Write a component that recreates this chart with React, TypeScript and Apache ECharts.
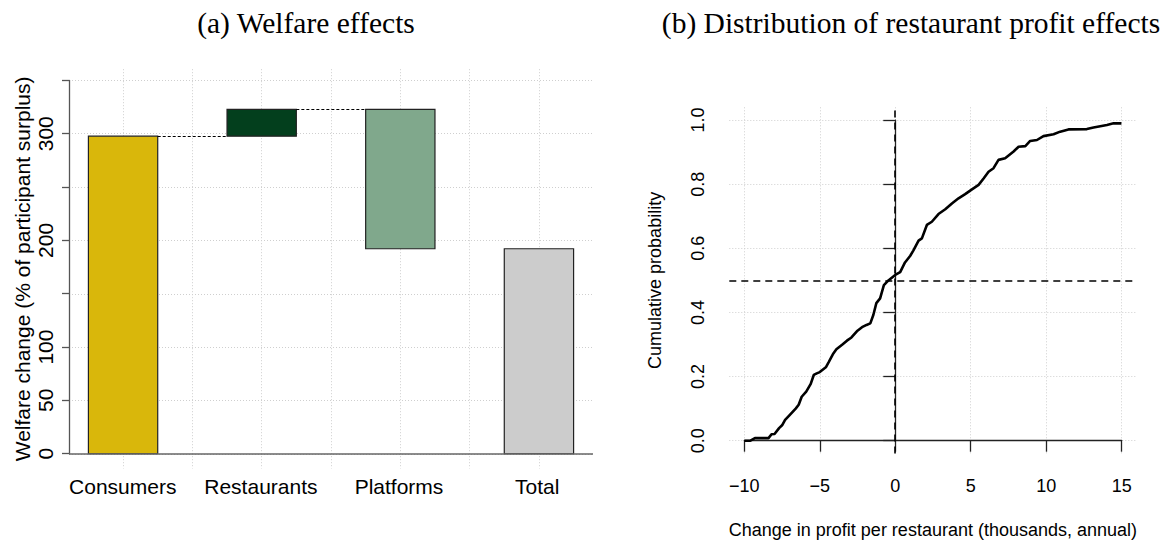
import React, { useEffect, useRef } from 'react';
import * as echarts from 'echarts';

// (a) welfare waterfall
const categories = ['Consumers', 'Restaurants', 'Platforms', 'Total'];
const welfareChange = [297.7, 25.2, -130.7, 192.2];
const barColors = ['#d9b70b', '#033f1d', '#80a88c', '#cccccc'];
const welfareTicks = [0, 50, 100, 150, 200, 250, 300, 350];
const welfareLabels = [0, 50, 100, 200, 300];
const barGridX = [1.5, 2.5, 3.5, 4.5, 5.5, 6.5, 7.5];
const leftXRange = [0.72, 8.28];
const leftYRange = [-13.9, 360.5];

// (b) CDF of restaurant profit effects
const profitX = [
  -10, -9.6, -9.3, -8.4, -8.2, -8.0, -7.7, -7.5, -7.3, -7.0, -6.6, -6.4, -6.2, -5.9, -5.6,
  -5.4, -5.2, -5.0, -4.6, -4.4, -4.1, -3.9, -3.5, -3.2, -2.9, -2.5, -2.2, -1.9, -1.65, -1.45,
  -1.25, -1.0, -0.75, -0.45, 0.0, 0.33, 0.65, 1.0, 1.2, 1.55, 1.77, 2.1, 2.43, 2.87, 3.32,
  3.76, 4.2, 4.64, 5.09, 5.53, 5.86, 6.19, 6.52, 6.85, 7.29, 7.85, 8.18, 8.63, 8.95, 9.4,
  9.83, 10.5, 10.94, 11.49, 12.71, 13.15, 14.04, 14.48, 15.0,
];
const cumProb = [
  0.0, 0.0, 0.008, 0.008, 0.02, 0.021, 0.039, 0.048, 0.065, 0.08, 0.1, 0.112, 0.137, 0.153, 0.177,
  0.205, 0.21, 0.214, 0.229, 0.246, 0.272, 0.285, 0.3, 0.312, 0.322, 0.343, 0.354, 0.361, 0.366, 0.392,
  0.429, 0.444, 0.485, 0.5, 0.517, 0.526, 0.556, 0.577, 0.593, 0.624, 0.631, 0.673, 0.683, 0.707, 0.722,
  0.74, 0.756, 0.769, 0.784, 0.798, 0.818, 0.839, 0.85, 0.876, 0.881, 0.902, 0.917, 0.919, 0.935, 0.938,
  0.95, 0.956, 0.964, 0.971, 0.972, 0.977, 0.985, 0.99, 0.99,
];
const profitTicks = [-10, -5, 0, 5, 10, 15];
const probTicks = [0, 0.2, 0.4, 0.6, 0.8, 1];
const rightXRange = [-11, 16];
const rightYRange = [-0.04, 1.04];
const medianProb = 0.5;
const zeroProfit = 0;

const SANS = 'Liberation Sans, Arial, sans-serif';
const SERIF = 'Liberation Serif, Times New Roman, serif';
const gridLine = { show: true, lineStyle: { color: '#cfcfcf', type: [1, 2], width: 1 } };

const App: React.FC = () => {
  const chartRef = useRef<HTMLDivElement>(null);

  useEffect(() => {
    if (!chartRef.current) return;
    const chart = echarts.init(chartRef.current, null, { renderer: 'svg' });

    // waterfall pieces: bar i spans x [2i+1, 2i+2]
    const bars: number[][] = [];
    const levels: number[] = [];
    let running = 0;
    welfareChange.forEach((v, i) => {
      const isTotal = i === welfareChange.length - 1;
      const lo = isTotal ? 0 : Math.min(running, running + v);
      const hi = isTotal ? v : Math.max(running, running + v);
      if (!isTotal) running += v;
      levels.push(running);
      bars.push([2 * i + 1, 2 * i + 2, lo, hi]);
    });
    const connectors = [0, 1].map((i) => ({
      coords: [
        [2 * i + 2, levels[i]],
        [2 * i + 3, levels[i]],
      ],
    }));

    const option: any = {
      animation: false,
      graphic: [
        {
          type: 'text', x: 306, y: 23,
          style: { text: '(a) Welfare effects', fontFamily: SERIF, fontSize: 29.5, fill: '#000', align: 'center', verticalAlign: 'middle' },
        },
        {
          type: 'text', x: 911, y: 23,
          style: { text: '(b) Distribution of restaurant profit effects', fontFamily: SERIF, fontSize: 29.5, fill: '#000', align: 'center', verticalAlign: 'middle' },
        },
      ],
      grid: [
        { left: 69, top: 69.2, width: 524, height: 399.4, outerBoundsMode: 'none' },
        { left: 69, top: 80.4, width: 524, height: 373.3, outerBoundsMode: 'none' },
        { left: 53.7, top: 69.2, width: 552.5, height: 399.4, outerBoundsMode: 'none' },
        { left: 729.3, top: 107.3, width: 407.2, height: 346.2, outerBoundsMode: 'none' },
        { left: 744.3, top: 120.1, width: 377.4, height: 320.6, outerBoundsMode: 'none' },
      ],
      xAxis: [
        {
          gridIndex: 0, type: 'value', min: leftXRange[0], max: leftXRange[1],
          axisLine: { show: false }, axisTick: { show: false, customValues: barGridX },
          axisLabel: { show: false }, splitLine: gridLine,
        },
        { gridIndex: 1, type: 'value', min: 0, max: 1, show: false },
        {
          gridIndex: 2, type: 'category', data: categories,
          axisLine: { show: false }, axisTick: { show: false }, splitLine: { show: false },
          axisLabel: { interval: 0, margin: 7, fontSize: 21, fontFamily: SANS, color: '#000' },
        },
        {
          gridIndex: 3, type: 'value', min: rightXRange[0], max: rightXRange[1],
          axisLine: { show: false }, axisTick: { show: false, customValues: profitTicks },
          axisLabel: { show: false }, splitLine: gridLine,
          name: 'Change in profit per restaurant (thousands, annual)', nameLocation: 'middle', nameGap: 67,
          nameTextStyle: { fontSize: 18, fontFamily: SANS, color: '#000' },
        },
        {
          gridIndex: 4, type: 'value', min: -10, max: 15, interval: 5, offset: 12.8,
          axisLine: { show: true, lineStyle: { color: '#222', width: 1.3 } },
          axisTick: { show: true, length: 11, lineStyle: { color: '#222', width: 1.3 } },
          splitLine: { show: false },
          axisLabel: {
            margin: 23, fontSize: 18, fontFamily: SANS, color: '#000',
            formatter: (v: number) => String(v).replace('-', '\u2212'),
          },
        },
      ],
      yAxis: [
        {
          gridIndex: 0, type: 'value', min: leftYRange[0], max: leftYRange[1],
          axisLine: { show: false }, axisTick: { show: false, customValues: welfareTicks },
          axisLabel: { show: false }, splitLine: gridLine,
          name: 'Welfare change (% of participant surplus)', nameLocation: 'middle', nameGap: 36,
          nameTextStyle: { fontSize: 21, fontFamily: SANS, color: '#000' },
        },
        {
          gridIndex: 1, type: 'value', min: 0, max: 350, interval: 50,
          axisLine: { show: true, lineStyle: { color: '#555', width: 1.3 } },
          axisTick: { show: true, length: 7, lineStyle: { color: '#555', width: 1.3 } },
          splitLine: { show: false },
          axisLabel: {
            rotate: 90, margin: 13, fontSize: 21, fontFamily: SANS, color: '#000',
            formatter: (v: number) => (welfareLabels.includes(v) ? String(v) : ''),
          },
        },
        { gridIndex: 2, type: 'value', min: 0, max: 1, show: false },
        {
          gridIndex: 3, type: 'value', min: rightYRange[0], max: rightYRange[1],
          axisLine: { show: false }, axisTick: { show: false, customValues: probTicks },
          axisLabel: { show: false }, splitLine: gridLine,
          name: 'Cumulative probability', nameLocation: 'middle', nameGap: 65,
          nameTextStyle: { fontSize: 18, fontFamily: SANS, color: '#000' },
        },
        {
          gridIndex: 4, type: 'value', min: 0, max: 1, interval: 0.2, offset: 15,
          axisLine: { show: true, lineStyle: { color: '#222', width: 1.3 } },
          axisTick: { show: true, length: 12, lineStyle: { color: '#222', width: 1.3 } },
          splitLine: { show: false },
          axisLabel: {
            rotate: 90, margin: 22, fontSize: 18, fontFamily: SANS, color: '#000',
            formatter: (v: number) => v.toFixed(1),
          },
        },
      ],
      series: [
        {
          type: 'custom',
          xAxisIndex: 0, yAxisIndex: 0,
          data: bars,
          encode: { x: [0, 1], y: [2, 3] },
          z: 2,
          renderItem: (params: any, api: any) => {
            const p0 = api.coord([api.value(0), api.value(3)]);
            const p1 = api.coord([api.value(1), api.value(2)]);
            return {
              type: 'rect',
              shape: { x: p0[0], y: p0[1], width: p1[0] - p0[0], height: p1[1] - p0[1] },
              style: { fill: barColors[params.dataIndex], stroke: '#222', lineWidth: 1.2 },
            };
          },
        },
        {
          type: 'lines',
          coordinateSystem: 'cartesian2d',
          xAxisIndex: 0, yAxisIndex: 0,
          z: 3,
          lineStyle: { color: '#000', width: 1, type: [3, 2], opacity: 1 },
          data: [
            ...connectors,
            {
              coords: [
                [leftXRange[0], 0],
                [leftXRange[1], 0],
              ],
              lineStyle: { color: '#666', width: 1.6, type: 'solid' },
            },
          ],
        },
        {
          type: 'lines',
          coordinateSystem: 'cartesian2d',
          xAxisIndex: 3, yAxisIndex: 3,
          z: 3,
          lineStyle: { color: '#000', width: 1.6, type: [7, 5], opacity: 1 },
          data: [
            { coords: [[rightXRange[0], medianProb], [rightXRange[1], medianProb]] },
            { coords: [[zeroProfit, rightYRange[0]], [zeroProfit, rightYRange[1]]] },
          ],
        },
        {
          type: 'line',
          xAxisIndex: 3, yAxisIndex: 3,
          z: 4,
          showSymbol: false,
          symbol: 'none',
          lineStyle: { color: '#000', width: 2.6 },
          data: profitX.map((x, i) => [x, cumProb[i]]),
        },
      ],
    };

    chart.setOption(option);
    return () => {
      chart.dispose();
    };
  }, []);

  return (
    <div
      ref={chartRef}
      style={{ position: 'absolute', left: 0, top: 0, width: '1165px', height: '543px', background: '#fff' }}
    />
  );
};

export default App;
